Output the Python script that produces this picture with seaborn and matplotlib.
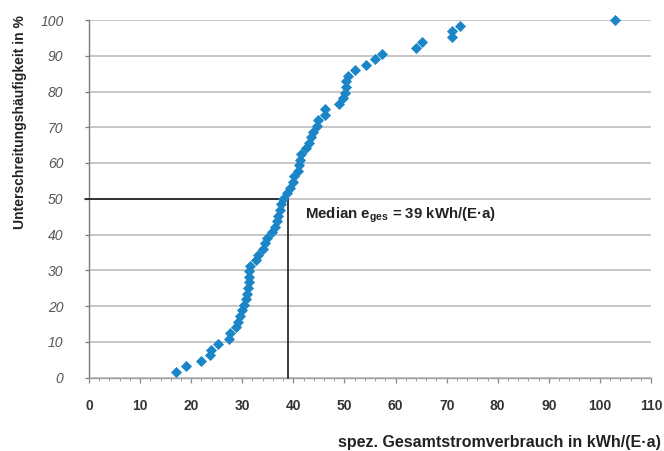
import matplotlib
matplotlib.use("Agg")
import matplotlib.pyplot as plt
from matplotlib.ticker import MultipleLocator
import pandas as pd
import seaborn as sns

# Specific total electricity consumption per inhabitant, sorted (kWh/(E·a))
verbrauch = [
    17.0, 19.0, 21.9, 23.7, 23.9, 25.3, 27.4, 27.6, 28.8, 29.1,
    29.5, 29.9, 30.3, 30.7, 31.0, 31.2, 31.3, 31.3, 31.4, 31.5,
    32.7, 33.0, 34.1, 34.4, 34.9, 35.9, 36.4, 36.7, 37.0, 37.4,
    37.5, 37.9, 38.8, 39.3, 39.9, 40.1, 41.0, 41.2, 41.3, 41.5,
    42.5, 43.0, 43.4, 43.8, 44.7, 44.9, 46.2, 46.2, 48.9, 49.8,
    50.1, 50.3, 50.4, 50.7, 52.1, 54.3, 56.0, 57.4, 64.1, 65.1,
    71.1, 71.1, 72.6, 102.9,
]

# Cumulative share of plants below each value (%)
unterschreitung = [
    1.6, 3.1, 4.7, 6.3, 7.8, 9.4, 10.9, 12.5, 14.1, 15.6,
    17.2, 18.8, 20.3, 21.9, 23.4, 25.0, 26.6, 28.1, 29.7, 31.3,
    32.8, 34.4, 35.9, 37.5, 39.1, 40.6, 42.2, 43.8, 45.3, 46.9,
    48.4, 50.0, 51.6, 53.1, 54.7, 56.3, 57.8, 59.4, 60.9, 62.5,
    64.1, 65.6, 67.2, 68.8, 70.3, 71.9, 73.4, 75.0, 76.6, 78.1,
    79.7, 81.3, 82.8, 84.4, 85.9, 87.5, 89.1, 90.6, 92.2, 93.8,
    95.3, 96.9, 98.4, 100.0,
]

median_verbrauch = 39
median_anteil = 50

x_ticks = [0, 10, 20, 30, 40, 50, 60, 70, 80, 90, 100, 110]
y_ticks = [0, 10, 20, 30, 40, 50, 60, 70, 80, 90, 100]

sns.set_theme(style="white")
narrow = ["Liberation Sans Narrow", "Liberation Sans", "DejaVu Sans"]
plt.rcParams["font.family"] = narrow
plt.rcParams["mathtext.fontset"] = "custom"
plt.rcParams["mathtext.rm"] = "Liberation Sans:bold"
plt.rcParams["mathtext.bf"] = "Liberation Sans:bold"

fig = plt.figure(figsize=(6.64, 4.51), dpi=100)
W, H = 664, 451
ax = fig.add_axes([89 / W, 1 - 377.5 / H, (651 - 89) / W, (377.5 - 20) / H])

df = pd.DataFrame({"verbrauch": verbrauch, "anteil": unterschreitung})
sns.scatterplot(data=df, x="verbrauch", y="anteil", marker="D", s=32,
                color="#1a86c8", linewidth=0, ax=ax, zorder=4, clip_on=False)

ax.set_xlim(0, 110)
ax.set_ylim(0, 100)
ax.set_xticks(x_ticks)
ax.xaxis.set_minor_locator(MultipleLocator(2))
ax.set_yticks(y_ticks)

ax.yaxis.grid(True, color="#bcbcbc", linewidth=1.2)
ax.xaxis.grid(False)
ax.set_axisbelow(True)
for side in ["top", "right"]:
    ax.spines[side].set_visible(False)
ax.spines["left"].set_color("#7a7a7a")
ax.spines["left"].set_linewidth(1.0)
ax.spines["bottom"].set_color("#a0a0a0")
ax.spines["bottom"].set_linewidth(1.0)

ax.tick_params(axis="x", which="major", direction="out", length=3.8, width=0.9,
               color="#8a8a8a", pad=12, labelsize=10, labelcolor="#333333", bottom=True)
ax.tick_params(axis="x", which="minor", direction="out", length=2.2, width=0.7,
               color="#a0a0a0", bottom=True)
ax.tick_params(axis="y", which="major", direction="out", length=2.9, width=0.9,
               color="#7a7a7a", pad=15.5, labelsize=10, labelcolor="#555555", left=True)
for lab in ax.get_xticklabels():
    lab.set_fontweight("bold")
for lab in ax.get_yticklabels():
    lab.set_fontstyle("italic")
    lab.set_family(["Liberation Sans", "DejaVu Sans"])
ax.set_xlabel("")
ax.set_ylabel("")

# Median guide lines
ax.plot([-0.8, median_verbrauch], [median_anteil, median_anteil],
        color="#1a1a1a", lw=1.2, clip_on=False, zorder=3)
ax.plot([median_verbrauch, median_verbrauch], [0, median_anteil],
        color="#1a1a1a", lw=1.2, clip_on=False, zorder=3)
ax.text(42.3, 45.4, f"Median e$_{{\\mathrm{{ges}}}}$ = {median_verbrauch} kWh/(E·a)",
        fontsize=10.8, fontweight="bold", color="#222222", va="center", ha="left")

fig.text(20 / W, 1 - 15 / H, "Unterschreitungshäufigkeit in %", rotation=90,
         ha="center", va="top", fontsize=10, fontweight="bold", color="#222222")
fig.text(661 / W, 1 - 442 / H, "spez. Gesamtstromverbrauch in kWh/(E·a)",
         ha="right", va="center", fontsize=11.5, fontweight="bold", color="#222222")

fig.savefig("out.png", dpi=100)
